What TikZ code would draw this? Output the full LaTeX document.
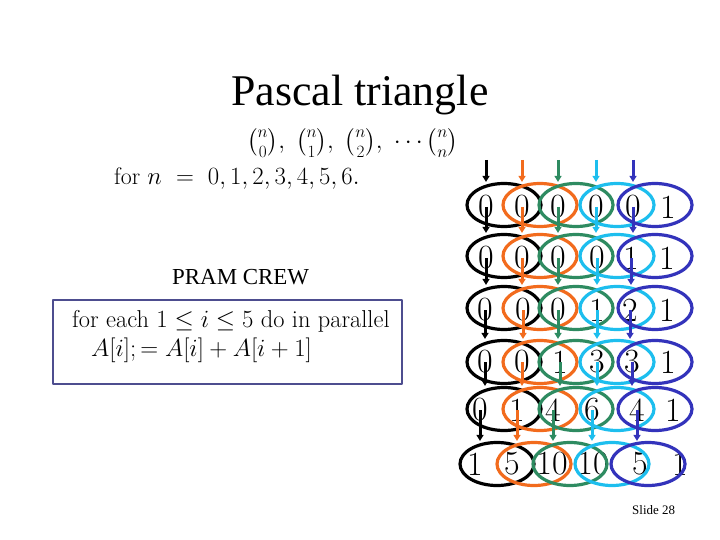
\documentclass[tikz,border=0pt]{standalone}
\usepackage{amsmath,amssymb}
\usepackage{fontspec}
\newfontfamily\slidefont{Liberation Serif}
\usepackage{tikz}
\usetikzlibrary{arrows.meta,shapes.geometric}
\definecolor{pblack}{HTML}{000000}
\definecolor{porange}{HTML}{F26B1D}
\definecolor{pgreen}{HTML}{2E8B61}
\definecolor{pcyan}{HTML}{1DBEEE}
\definecolor{pblue}{HTML}{3333BB}
\definecolor{boxline}{HTML}{4D4D8F}
\tikzset{
  every picture/.style={line join=round, >={Triangle[length=6bp,width=7bp]}},
  txt/.style={inner sep=0pt, anchor=base west},
  digit/.style={inner sep=0pt, font=\fontsize{34}{34}\selectfont},
  pair/.style={ellipse, draw=#1, line width=3.2bp, minimum width=74bp, minimum height=43bp, inner sep=0pt},
  link/.style={->, draw=#1, line width=3bp},
}

\begin{document}
\begin{tikzpicture}[x=1bp,y=-1bp]
\useasboundingbox (0,0) rectangle (720,540);
\node[inner sep=0pt, anchor=base, font=\slidefont\fontsize{44}{44}\selectfont] (title) at (360,106) {Pascal triangle};
\node[txt, font=\fontsize{23}{23}\selectfont] (binoms) at (247,149) {$\binom{n}{0},\ \binom{n}{1},\ \binom{n}{2},\ \cdots\binom{n}{n}$};
\node[txt, font=\fontsize{24}{24}\selectfont] (forn) at (114,185) {for $n\ =\ 0,1,2,3,4,5,6.$};
\node[txt, font=\slidefont\fontsize{23}{23}\selectfont] (pram) at (172,285) {PRAM CREW};
\node[draw=boxline, line width=1.2bp, minimum width=349bp, minimum height=84bp, inner sep=0pt] (algobox) at (227.5,342) {};
\node[txt, font=\fontsize{24.5}{24.5}\selectfont] (line1) at (72,327) {for each $1\leq i\leq 5$ do in parallel};
\node[txt, font=\fontsize{24.5}{24.5}\selectfont] (line2) at (91,356) {$A[i];=A[i]+A[i+1]$};
\node[txt, font=\slidefont\fontsize{13}{13}\selectfont] (slideno) at (632,514) {Slide 28};

\foreach \x/\v [count=\c] in {486/0,522/0,558/0,596/0,633/0,668/1}
  \node[digit] (d-1-\c) at (\x,207) {\v};
\foreach \x/\v [count=\c] in {486/0,522/0,558/0,597/0,631/1,667/1}
  \node[digit] (d-2-\c) at (\x,258) {\v};
\foreach \x/\v [count=\c] in {485/0,523/0,558/0,597/1,630/2,667/1}
  \node[digit] (d-3-\c) at (\x,310) {\v};
\foreach \x/\v [count=\c] in {485/0,522/0,560/1,597/3,632/3,668/1}
  \node[digit] (d-4-\c) at (\x,362) {\v};
\foreach \x/\v [count=\c] in {480/0,517/1,553/4,592/6,637/4,673/1}
  \node[digit] (d-5-\c) at (\x,410) {\v};
\foreach \x/\v [count=\c] in {475/1,512/5,552/10,593/10,640/5,680/1}
  \node[digit] (d-6-\c) at (\x,464) {\v};

\foreach \r/\y in {1/205,2/256,3/308,4/362,5/409}
  \foreach \x/\col [count=\k] in {504/pblack,540/porange,576/pgreen,617/pcyan,655/pblue}
    \node[pair=\col] (e-\r-\k) at (\x,\y) {};
\foreach \x/\col [count=\k] in {497/pblack,534/porange,570/pgreen,612/pcyan,648/pblue}
  \node[pair=\col] (e-6-\k) at (\x,464) {};

\foreach \x/\col [count=\k] in {486/pblack,522/porange,558/pgreen,596/pcyan,633/pblue}{
  \coordinate (top-\k) at (\x,160);
  \draw[link=\col] (top-\k) -- (top-\k |- e-1-\k.north);
  \foreach \r [evaluate=\r as \n using int(\r+1)] in {1,...,5}
    \draw[link=\col] (d-\r-\k.center) -- (d-\r-\k.center |- e-\n-\k.north);
}
\end{tikzpicture}
\end{document}
